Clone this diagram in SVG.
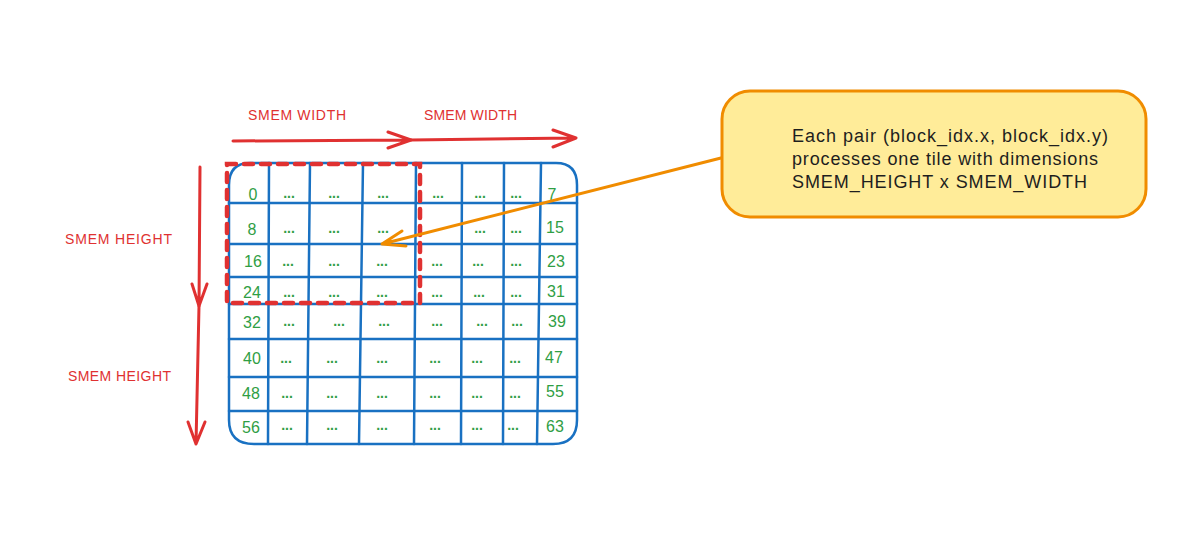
<svg xmlns="http://www.w3.org/2000/svg" width="1200" height="534" viewBox="0 0 1200 534">
<style>
.grid{fill:none;stroke:#1971c2;stroke-width:2.5;stroke-linecap:round;stroke-linejoin:round}
.num{font-family:"Liberation Sans",Arial,sans-serif;font-size:16px;fill:#2f9e44;text-anchor:middle}
.dot{font-family:"Liberation Sans",Arial,sans-serif;font-size:14px;font-weight:bold;fill:#2f9e44;text-anchor:middle}
.lbl{font-family:"Liberation Sans",Arial,sans-serif;font-size:14px;fill:#e03131}
.red{fill:none;stroke:#e03131;stroke-width:3;stroke-linecap:round;stroke-linejoin:round}
.org{fill:none;stroke:#f08c00;stroke-width:3;stroke-linecap:round;stroke-linejoin:round}
.note{font-family:"Liberation Sans",Arial,sans-serif;font-size:18px;fill:#1e1e1e}
</style>
<rect width="1200" height="534" fill="#ffffff"/>

<g id="grid">
  <path class="grid" d="M250,163 H556 Q577,163 577,185 V420 Q577,444 553,444 H254 Q229,444 229,420 V185 Q229,163 250,163 Z"/>
  <path class="grid" d="M229,203 H577 M229,244 H577 M229,277 H577 M229,304 H577 M229,339 H577 M229,377 H577 M229,411 H577"/>
  <path class="grid" d="M269,163 L268,444 M310,163 L307,444 M363,163 L359,444 M416,163 L414,444 M462,163 L461,444 M504,163 L503,444 M541,163 L537,444"/>
  <g>
    <text class="num" x="253" y="200">0</text>
    <text class="num" x="252" y="235">8</text>
    <text class="num" x="253" y="267">16</text>
    <text class="num" x="252" y="298">24</text>
    <text class="num" x="252" y="328">32</text>
    <text class="num" x="252" y="364">40</text>
    <text class="num" x="251" y="399">48</text>
    <text class="num" x="251" y="433">56</text>
    <text class="num" x="552" y="200">7</text>
    <text class="num" x="555" y="233">15</text>
    <text class="num" x="556" y="267">23</text>
    <text class="num" x="556" y="297">31</text>
    <text class="num" x="557" y="327">39</text>
    <text class="num" x="554" y="363">47</text>
    <text class="num" x="555" y="397">55</text>
    <text class="num" x="555" y="432">63</text>
  </g>
  <g>
    <text class="dot" x="289" y="197.5">...</text><text class="dot" x="334" y="197.5">...</text><text class="dot" x="383" y="197.5">...</text><text class="dot" x="438" y="197.5">...</text><text class="dot" x="480" y="197.5">...</text><text class="dot" x="516" y="197.5">...</text>
    <text class="dot" x="289" y="232.5">...</text><text class="dot" x="334" y="232.5">...</text><text class="dot" x="383" y="232.5">...</text><text class="dot" x="480" y="232.5">...</text><text class="dot" x="516" y="232.5">...</text>
    <text class="dot" x="288" y="265.5">...</text><text class="dot" x="334" y="265.5">...</text><text class="dot" x="382" y="265.5">...</text><text class="dot" x="437" y="265.5">...</text><text class="dot" x="478" y="265.5">...</text><text class="dot" x="516" y="265.5">...</text>
    <text class="dot" x="289" y="296.5">...</text><text class="dot" x="334" y="296.5">...</text><text class="dot" x="382" y="296.5">...</text><text class="dot" x="437" y="296.5">...</text><text class="dot" x="479" y="296.5">...</text><text class="dot" x="516" y="296.5">...</text>
    <text class="dot" x="289" y="325.5">...</text><text class="dot" x="339" y="325.5">...</text><text class="dot" x="384" y="325.5">...</text><text class="dot" x="437" y="325.5">...</text><text class="dot" x="482" y="325.5">...</text><text class="dot" x="517" y="325.5">...</text>
    <text class="dot" x="286" y="362.5">...</text><text class="dot" x="332" y="362.5">...</text><text class="dot" x="382" y="362.5">...</text><text class="dot" x="435" y="362.5">...</text><text class="dot" x="477" y="362.5">...</text><text class="dot" x="515" y="362.5">...</text>
    <text class="dot" x="287" y="397.5">...</text><text class="dot" x="332" y="397.5">...</text><text class="dot" x="382" y="397.5">...</text><text class="dot" x="435" y="397.5">...</text><text class="dot" x="477" y="397.5">...</text><text class="dot" x="515" y="397.5">...</text>
    <text class="dot" x="287" y="429.5">...</text><text class="dot" x="332" y="429.5">...</text><text class="dot" x="382" y="429.5">...</text><text class="dot" x="435" y="429.5">...</text><text class="dot" x="477" y="429.5">...</text><text class="dot" x="513" y="429.5">...</text>
  </g>
</g>

<g id="tile">
  <rect x="227" y="164" width="193" height="139" fill="none" stroke="#e03131" stroke-width="4.5" stroke-dasharray="9 8" stroke-linecap="round"/>
</g>

<g id="labels">
  <text class="lbl" x="248" y="120" textLength="98">SMEM WIDTH</text>
  <text class="lbl" x="424" y="120" textLength="93">SMEM WIDTH</text>
  <text class="lbl" x="65" y="244" textLength="107">SMEM HEIGHT</text>
  <text class="lbl" x="68" y="381" textLength="103">SMEM HEIGHT</text>
</g>

<g id="callout">
  <rect x="722" y="91" width="424" height="126" rx="28" ry="28" fill="#ffec99" stroke="#f08c00" stroke-width="3"/>
  <text class="note" x="792" y="142" textLength="316">Each pair (block_idx.x, block_idx.y)</text>
  <text class="note" x="792" y="165" textLength="306">processes one tile with dimensions</text>
  <text class="note" x="792" y="188" textLength="295">SMEM_HEIGHT x SMEM_WIDTH</text>
</g>

<g id="connectors">
  <path class="red" d="M233,141 L411,140 M388,132 L411,140 L388,148"/>
  <path class="red" d="M411,140 L576,138 M553,130 L576,138 L553,147"/>
  <path class="red" d="M200,167 L199,306 M192,284 L199,306 L207,284"/>
  <path class="red" d="M199,306 L196,444 M188,422 L196,444 L205,422"/>
  <path class="org" d="M721,158 L382,244 M402,231 L382,244 L406,246"/>
</g>
</svg>
